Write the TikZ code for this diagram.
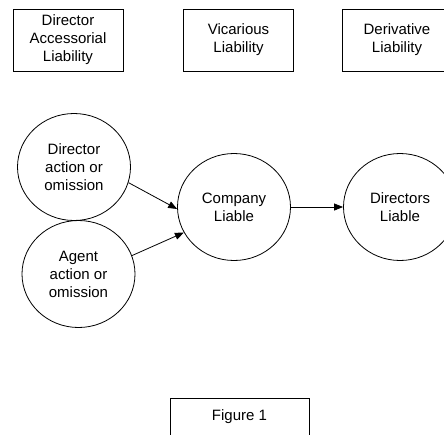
\documentclass[tikz,border=0pt]{standalone}
\usepackage{fontspec}
\setmainfont{Liberation Sans}
\usetikzlibrary{arrows.meta,shapes.geometric}

\begin{document}
\begin{tikzpicture}[x=1pt,y=1pt,
  box/.style={draw,line width=0.8pt,minimum width=110pt,minimum height=62pt,inner sep=0pt,align=center,font=\fontsize{15}{18}\selectfont},
  bubble/.style={draw,ellipse,line width=0.8pt,minimum width=113pt,minimum height=107pt,inner sep=0pt,align=center,font=\fontsize{15}{18}\selectfont},
  link/.style={-{Triangle[length=9pt,width=7pt]},line width=0.8pt}]
\useasboundingbox (0,0) rectangle (444,-434);
\node[box] (accessorial) at (68,-40) {Director\\Accessorial\\Liability};
\node[box] (vicarious) at (238.5,-40) {Vicarious\\Liability};
\node[box] (derivative) at (397,-40) {Derivative\\Liability};
\node[bubble] (director) at (74,-167) {Director\\action or\\omission};
\node[bubble] (agent) at (78.5,-274) {Agent\\action or\\omission};
\node[bubble] (company) at (234,-207) {Company\\Liable};
\node[bubble] (directors) at (400,-207) {Directors\\Liable};
\draw[link] (director.-16) -- (company.182);
\draw[link] (agent.19) -- (company.207);
\draw[link] (company.east) -- (directors.west);
\node[box,minimum width=139pt,minimum height=38pt] (figure) at (239.5,-417) {Figure 1};
\end{tikzpicture}
\end{document}
